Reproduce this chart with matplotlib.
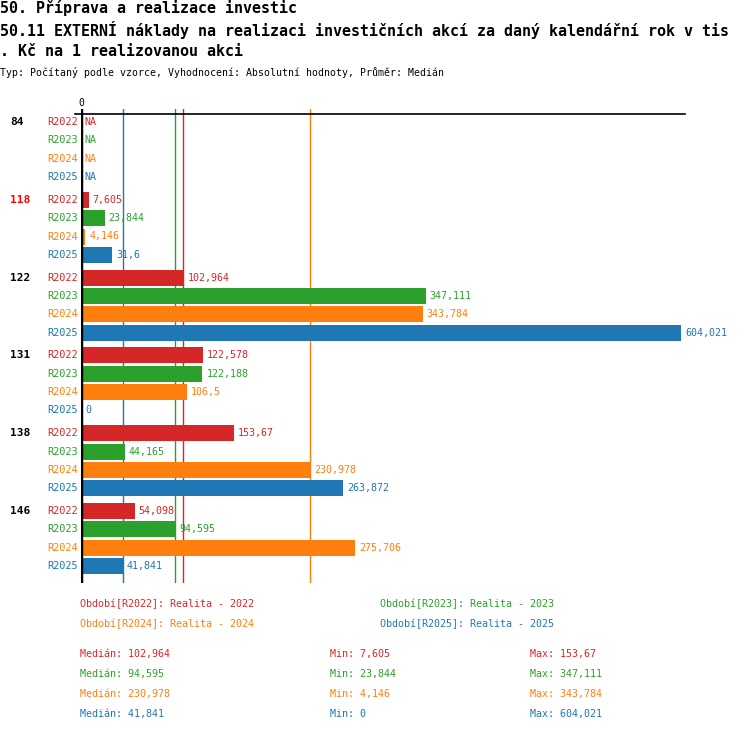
import matplotlib
matplotlib.use('Agg')
import matplotlib.pyplot as plt
import numpy as np

plt.rcParams['font.family'] = ['DejaVu Sans Mono']

# data (values in tis. Kč), None = NA
categories = ['84', '118', '122', '131', '138', '146']
periods = ['R2022', 'R2023', 'R2024', 'R2025']
period_names = ['Realita - 2022', 'Realita - 2023', 'Realita - 2024', 'Realita - 2025']
r2022 = [None, 7.605, 102.964, 122.578, 153.67, 54.098]
r2023 = [None, 23.844, 347.111, 122.188, 44.165, 94.595]
r2024 = [None, 4.146, 343.784, 106.5, 230.978, 275.706]
r2025 = [None, 31.6, 604.021, 0, 263.872, 41.841]
series = [r2022, r2023, r2024, r2025]
highlight = '118'

colors = ['#d62728', '#2ca02c', '#ff7f0e', '#1f77b4']

W, H = 750, 732


def fx(x):
    return x / W


def fy(y):
    return 1 - y / H


def fmt(v):
    return ('%g' % v).replace('.', ',')


fig = plt.figure(figsize=(W / 100, H / 100), dpi=100)

# titles
fig.text(fx(0), fy(8), '50. Příprava a realizace investic', fontsize=10.8,
         fontweight='bold', va='center', ha='left')
fig.text(fx(0), fy(30), '50.11 EXTERNÍ náklady na realizaci investičních akcí za daný kalendářní rok v tis',
         fontsize=10.8, fontweight='bold', va='center', ha='left')
fig.text(fx(0), fy(52), '. Kč na 1 realizovanou akci', fontsize=10.8,
         fontweight='bold', va='center', ha='left')
fig.text(fx(0), fy(73), 'Typ: Počítaný podle vzorce, Vyhodnocení: Absolutní hodnoty, Průměr: Medián',
         fontsize=7.1, va='center', ha='left')

# plot area in pixels
left_px, right_px, top_px, bot_px = 81, 685, 109, 583
ax = fig.add_axes([fx(left_px), fy(bot_px), (right_px - left_px) / W, (bot_px - top_px) / H])
xmax = 608.0
ax.set_xlim(0, xmax)
ax.set_ylim(bot_px, top_px)
ax.axis('off')

px_per_unit = (right_px - left_px) / xmax
group_step, row_step, bar_h = 77.8, 18.35, 16

# median lines
for s, c in zip(series, colors):
    vals = [v for v in s if v is not None]
    ax.axvline(np.median(vals), color=c, lw=1, zorder=1)

ax.axvline(0, color='black', lw=2.5, zorder=4)
ax.plot([-6 / px_per_unit, xmax], [114, 114], color='black', lw=1.2,
        clip_on=False, zorder=4)
ax.text(0, 103, '0', fontsize=7, ha='center', va='center')

for g, cat in enumerate(categories):
    y0 = 122 + g * group_step
    ax.text(-71 / px_per_unit, y0, cat, fontsize=8, fontweight='bold',
            color='#ff0000' if cat == highlight else 'black',
            ha='left', va='center', clip_on=False)
    for j, (s, c, p) in enumerate(zip(series, colors, periods)):
        y = y0 + j * row_step
        ax.text(-3 / px_per_unit, y, p, fontsize=7.4, color=c, ha='right',
                va='center', clip_on=False)
        v = s[g]
        if v is None:
            ax.text(3 / px_per_unit, y, 'NA', fontsize=7.2, color=c,
                    ha='left', va='center')
            continue
        ax.barh(y, v, height=bar_h, color=c, zorder=2)
        ax.text(v + 4 / px_per_unit, y, fmt(v), fontsize=7.2, color=c,
                ha='left', va='center', clip_on=False, zorder=3)

# legend
leg_pos = [(80, 604), (380, 604), (80, 624), (380, 624)]
for (x, y), p, n, c in zip(leg_pos, periods, period_names, colors):
    fig.text(fx(x), fy(y), 'Období[%s]: %s' % (p, n), fontsize=7.2,
             color=c, ha='left', va='center')

# stats
for j, (s, c) in enumerate(zip(series, colors)):
    vals = [v for v in s if v is not None]
    y = 654 + j * 20
    fig.text(fx(80), fy(y), 'Medián: ' + fmt(np.median(vals)), fontsize=7.2,
             color=c, ha='left', va='center')
    fig.text(fx(330), fy(y), 'Min: ' + fmt(min(vals)), fontsize=7.2,
             color=c, ha='left', va='center')
    fig.text(fx(530), fy(y), 'Max: ' + fmt(max(vals)), fontsize=7.2,
             color=c, ha='left', va='center')

fig.savefig('out.png', dpi=100)
